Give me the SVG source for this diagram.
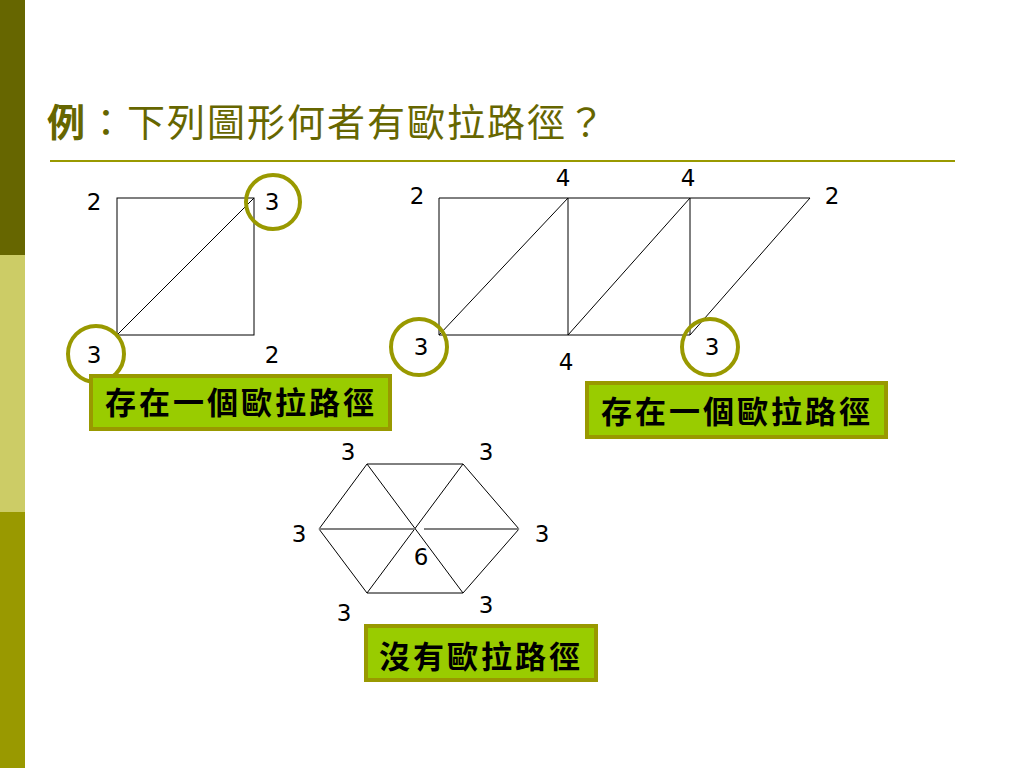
<svg xmlns="http://www.w3.org/2000/svg" width="1024" height="768" viewBox="0 0 1024 768">
<style>
.edge{stroke:#000;stroke-width:1;fill:none}
.hz{stroke:#808080;stroke-width:2;fill:none}
.ring{fill:none;stroke:#999900;stroke-width:4}
.num{font-family:"DejaVu Sans",Verdana,sans-serif;font-size:23px;fill:#000;text-anchor:middle}
.box{fill:#99CC00;stroke:#999900;stroke-width:4}
.btxt{font-family:"Noto Sans CJK TC","Noto Sans CJK SC",sans-serif;font-size:31px;font-weight:bold;fill:#000;text-anchor:middle;letter-spacing:3px}
</style>
<rect width="1024" height="768" fill="#fff"/>
<g id="sidebar">
<rect x="0" y="0" width="25" height="255" fill="#666600"/>
<rect x="0" y="255" width="25" height="257" fill="#CCCC66"/>
<rect x="0" y="512" width="25" height="256" fill="#999900"/>
</g>
<g id="title">
<text x="47" y="136" font-family="'Noto Sans CJK TC','Noto Sans CJK SC',sans-serif" font-size="38" fill="#666600" letter-spacing="2"><tspan font-weight="bold">例</tspan>：下列圖形何者有歐拉路徑？</text>
<line x1="50" y1="161" x2="955" y2="161" stroke="#999900" stroke-width="2"/>
</g>
<g id="connectors">
<rect class="edge" x="117" y="198" width="137" height="137"/>
<line class="edge" x1="117" y1="335" x2="254" y2="198"/>
<polyline class="edge" points="439,335 439,198 810,198 690,335 439,335"/>
<line class="edge" x1="568" y1="198" x2="568" y2="335"/>
<line class="edge" x1="690" y1="198" x2="690" y2="335"/>
<line class="edge" x1="439" y1="335" x2="568" y2="198"/>
<line class="edge" x1="568" y1="335" x2="690" y2="198"/>
<polygon class="edge" points="367,464 463,464 519,529 463,593 367,593 319,529"/>
<line class="edge" x1="367" y1="464" x2="463" y2="593"/>
<line class="edge" x1="463" y1="464" x2="367" y2="593"/>
<line class="hz" x1="319" y1="529" x2="415" y2="529"/>
<line class="hz" x1="424" y1="529" x2="519" y2="529"/>
</g>
<g id="graph1">
<circle class="ring" cx="273" cy="202" r="27"/>
<circle class="ring" cx="96" cy="354" r="28"/>
<text class="num" x="94" y="210">2</text>
<text class="num" x="272" y="210">3</text>
<text class="num" x="94" y="363">3</text>
<text class="num" x="272" y="363">2</text>
</g>
<g id="box1">
<rect class="box" x="91" y="376" width="299" height="53"/>
<text class="btxt" x="241" y="414">存在一個歐拉路徑</text>
</g>
<g id="graph2">
<circle class="ring" cx="419" cy="347" r="28"/>
<circle class="ring" cx="710" cy="347" r="28"/>
<text class="num" x="417" y="204">2</text>
<text class="num" x="563" y="186">4</text>
<text class="num" x="688" y="186">4</text>
<text class="num" x="832" y="204">2</text>
<text class="num" x="421" y="355">3</text>
<text class="num" x="712" y="355">3</text>
<text class="num" x="566" y="370">4</text>
</g>
<g id="box2">
<rect class="box" x="587" y="383" width="299" height="54"/>
<text class="btxt" x="737" y="423">存在一個歐拉路徑</text>
</g>
<g id="graph3">
<text class="num" x="348" y="460">3</text>
<text class="num" x="486" y="460">3</text>
<text class="num" x="299" y="542">3</text>
<text class="num" x="542" y="542">3</text>
<text class="num" x="421" y="565">6</text>
<text class="num" x="344" y="621">3</text>
<text class="num" x="486" y="613">3</text>
</g>
<g id="box3">
<rect class="box" x="366" y="626" width="230" height="54"/>
<text class="btxt" x="481" y="668">沒有歐拉路徑</text>
</g>
</svg>
